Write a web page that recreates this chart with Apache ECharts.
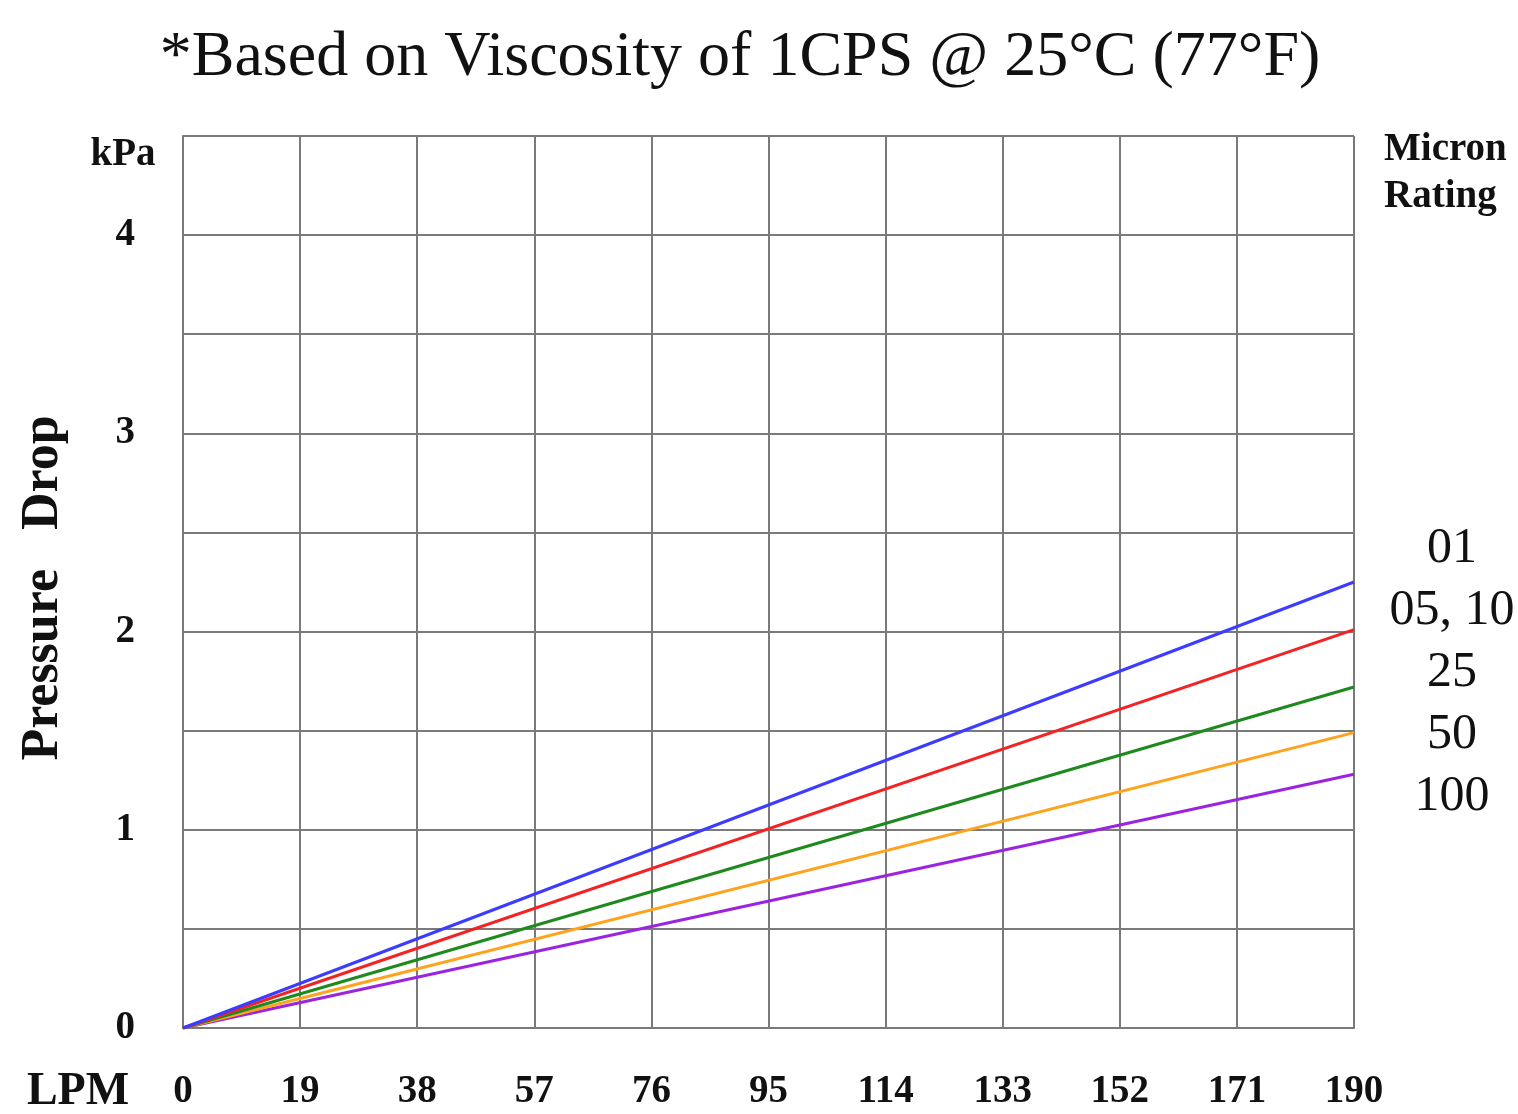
<!DOCTYPE html>
<html>
<head>
<meta charset="utf-8">
<script src="https://cdn.jsdelivr.net/npm/echarts@6/dist/echarts.min.js"></script>
<style>
html,body{margin:0;padding:0;background:#fff;}
#chart{width:1518px;height:1114px;}
</style>
</head>
<body>
<div id="chart"></div>
<script>
// Data
const flowLPM = [0, 190];
const seriesNames = ['01', '05, 10', '25', '50', '100'];
const drop01 = [0, 2.25];
const drop0510 = [0, 2.01];
const drop25 = [0, 1.72];
const drop50 = [0, 1.49];
const drop100 = [0, 1.28];
const seriesColors = ['#3c3cff', '#f42323', '#1e8a1e', '#ffa31e', '#9b24e0'];
const xTicks = [0, 19, 38, 57, 76, 95, 114, 133, 152, 171, 190];
const yTickLabels = [0, 1, 2, 3, 4];

const allDrops = [drop01, drop0510, drop25, drop50, drop100];
const serif = '"Liberation Serif", "Times New Roman", serif';

const chart = echarts.init(document.getElementById('chart'));
const option = {
  backgroundColor: '#fff',
  animation: false,
  grid: {left: 183, top: 136, width: 1171, height: 892, containLabel: false},
  xAxis: {
    type: 'value', min: 0, max: 190, interval: 19,
    axisLine: {show: true, lineStyle: {color: '#7a7a7a', width: 2}},
    axisTick: {show: false},
    splitLine: {show: true, lineStyle: {color: '#7a7a7a', width: 2}},
    axisLabel: {
      margin: 44, color: '#111', fontFamily: serif, fontWeight: 'bold', fontSize: 39,
      showMinLabel: true, showMaxLabel: true,
      formatter: function (v) { return xTicks.indexOf(v) >= 0 ? String(v) : ''; }
    }
  },
  yAxis: {
    type: 'value', min: 0, max: 4.5, interval: 0.5,
    axisLine: {show: true, lineStyle: {color: '#7a7a7a', width: 2}},
    axisTick: {show: false},
    splitLine: {show: true, lineStyle: {color: '#7a7a7a', width: 2}},
    axisLabel: {
      margin: 48, color: '#111', fontFamily: serif, fontWeight: 'bold', fontSize: 39,
      formatter: function (v) { return yTickLabels.indexOf(v) >= 0 ? String(v) : ''; }
    }
  },
  series: allDrops.map(function (d, i) {
    return {
      name: seriesNames[i], type: 'line',
      data: flowLPM.map(function (x, j) { return [x, d[j]]; }),
      showSymbol: false, symbol: 'none',
      lineStyle: {color: seriesColors[i], width: 3},
      z: 5 - i
    };
  }),
  graphic: [
    {type: 'text', x: 740, y: 58, style: {
      text: '*Based on Viscosity of 1CPS @ 25°C (77°F)', font: 'normal 64px ' + serif, fill: '#111',
      textAlign: 'center', textVerticalAlign: 'middle'}},
    {type: 'text', x: 123, y: 155, style: {
      text: 'kPa', font: 'bold 39px ' + serif, fill: '#111', textAlign: 'center', textVerticalAlign: 'middle'}},
    {type: 'text', x: 44, y: 588, rotation: Math.PI / 2, style: {
      text: 'Pressure   Drop', font: 'bold 52px ' + serif, fill: '#111', textAlign: 'center', textVerticalAlign: 'middle'}},
    {type: 'text', x: 78, y: 1092, style: {
      text: 'LPM', font: 'bold 46px ' + serif, fill: '#111', textAlign: 'center', textVerticalAlign: 'middle'}},
    {type: 'text', x: 1384, y: 150, style: {
      text: 'Micron', font: 'bold 39px ' + serif, fill: '#111', textAlign: 'left', textVerticalAlign: 'middle'}},
    {type: 'text', x: 1384, y: 197, style: {
      text: 'Rating', font: 'bold 39px ' + serif, fill: '#111', textAlign: 'left', textVerticalAlign: 'middle'}}
  ].concat(seriesNames.map(function (n, i) {
    return {type: 'text', x: 1452, y: 549 + i * 62, style: {
      text: n, font: 'normal 50px ' + serif, fill: '#111', textAlign: 'center', textVerticalAlign: 'middle'}};
  }))
};
chart.setOption(option);
</script>
</body>
</html>
